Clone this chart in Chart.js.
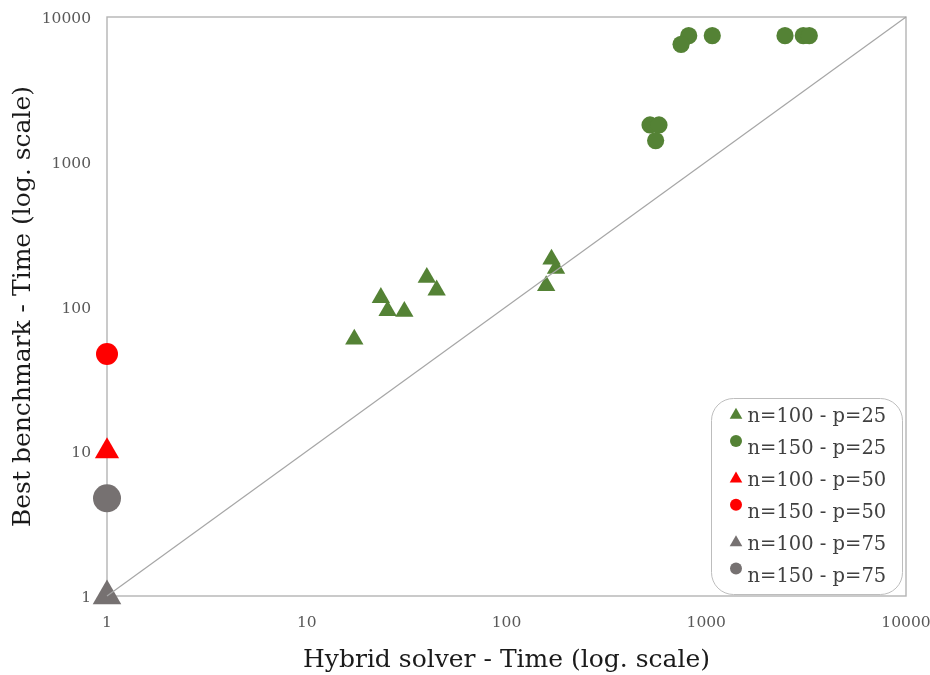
<!DOCTYPE html>
<html><head><meta charset="utf-8">
<script src="https://cdn.jsdelivr.net/npm/chart.js@4.4.0/dist/chart.umd.min.js"></script>
<style>html,body{margin:0;padding:0;background:#fff;}canvas{display:block;}</style>
</head><body>
<canvas id="c" width="930" height="675"></canvas>
<script>
// ---- data ----
const tickValues = [1, 10, 100, 1000, 10000];
const seriesNames = ['n=100 - p=25', 'n=150 - p=25', 'n=100 - p=50', 'n=150 - p=50', 'n=100 - p=75', 'n=150 - p=75'];
const n100p25_x = [17.3, 23.5, 25.4, 30.8, 39.9, 44.7, 168, 177, 158];
const n100p25_y = [59.4, 115, 93.4, 92.3, 158.6, 129.6, 212, 183, 139];
const n150p25_x = [817, 748, 1072, 2479, 3060, 3280, 523, 580, 558];
const n150p25_y = [7430, 6475, 7430, 7430, 7430, 7430, 1795, 1795, 1400];
const n100p50_x = [1];
const n100p50_y = [10];
const n150p50_x = [1];
const n150p50_y = [47];
const n100p75_x = [1];
const n100p75_y = [1];
const n150p75_x = [1];
const n150p75_y = [4.73];
const diagonal_x = [1, 10000];
const diagonal_y = [1, 10000];

// ---- styles ----
const GREEN = '#548235', RED = '#ff0000', GREY = '#767171';
const FONT = "'DejaVu Serif', serif";
const pts = (xs, ys) => xs.map((x, i) => ({x: x, y: ys[i]}));

const series = [
  {name: seriesNames[0], data: pts(n100p25_x, n100p25_y), color: GREEN, style: 'triangle', r: 10.6, lr: 7.3},
  {name: seriesNames[1], data: pts(n150p25_x, n150p25_y), color: GREEN, style: 'circle', r: 8.6, lr: 6},
  {name: seriesNames[2], data: pts(n100p50_x, n100p50_y), color: RED, style: 'triangle', r: 14, lr: 7.3},
  {name: seriesNames[3], data: pts(n150p50_x, n150p50_y), color: RED, style: 'circle', r: 11, lr: 6},
  {name: seriesNames[4], data: pts(n100p75_x, n100p75_y), color: GREY, style: 'triangle', r: 16.5, lr: 7.3},
  {name: seriesNames[5], data: pts(n150p75_x, n150p75_y), color: GREY, style: 'circle', r: 14, lr: 6}
];

const datasets = [{
  type: 'line', label: 'diag', data: pts(diagonal_x, diagonal_y), borderColor: '#a6a6a6', borderWidth: 1.2,
  pointRadius: 0, fill: false, order: 0, clip: false
}].concat(series.map(s => ({
  type: 'scatter', label: s.name, data: s.data, backgroundColor: s.color, borderColor: s.color,
  borderWidth: 0, pointStyle: s.style, pointRadius: s.r, pointHoverRadius: s.r, order: 1, clip: false
})));

function drawMarker(ctx, style, x, y, r, color) {
  ctx.save();
  ctx.fillStyle = color;
  ctx.beginPath();
  if (style === 'circle') {
    ctx.arc(x, y, r, 0, Math.PI * 2);
  } else {
    let rad = 0;
    ctx.moveTo(x + Math.sin(rad) * r, y - Math.cos(rad) * r);
    rad += 2 * Math.PI / 3;
    ctx.lineTo(x + Math.sin(rad) * r, y - Math.cos(rad) * r);
    rad += 2 * Math.PI / 3;
    ctx.lineTo(x + Math.sin(rad) * r, y - Math.cos(rad) * r);
    ctx.closePath();
  }
  ctx.fill();
  ctx.restore();
}

const framePlugin = {
  id: 'frame',
  beforeDatasetsDraw(chart) {
    const {ctx, chartArea: a} = chart;
    ctx.save();
    ctx.strokeStyle = '#b4b4b4';
    ctx.lineWidth = 1.4;
    ctx.strokeRect(a.left, a.top, a.right - a.left, a.bottom - a.top);
    ctx.restore();
  }
};

function roundRect(ctx, x, y, w, h, r) {
  ctx.beginPath();
  ctx.moveTo(x + r, y);
  ctx.lineTo(x + w - r, y);
  ctx.arcTo(x + w, y, x + w, y + r, r);
  ctx.lineTo(x + w, y + h - r);
  ctx.arcTo(x + w, y + h, x + w - r, y + h, r);
  ctx.lineTo(x + r, y + h);
  ctx.arcTo(x, y + h, x, y + h - r, r);
  ctx.lineTo(x, y + r);
  ctx.arcTo(x, y, x + r, y, r);
  ctx.closePath();
}

const legendPlugin = {
  id: 'boxLegend',
  afterDraw(chart) {
    const {ctx, chartArea: a} = chart;
    const w = 191, h = 196;
    const x0 = a.right - 3.5 - w, y0 = a.bottom - 1.5 - h;
    ctx.save();
    roundRect(ctx, x0, y0, w, h, 22);
    ctx.fillStyle = '#ffffff';
    ctx.fill();
    ctx.strokeStyle = '#bdbdbd';
    ctx.lineWidth = 1;
    ctx.stroke();
    ctx.font = "19.5px " + FONT;
    ctx.fillStyle = '#404040';
    ctx.textBaseline = 'middle';
    ctx.textAlign = 'left';
    series.forEach((s, i) => {
      const ty = y0 + 18.5 + i * 31.9;
      const my = s.style === 'circle' ? ty - 8 : ty - 2;
      drawMarker(ctx, s.style, x0 + 24.5, my, s.lr, s.color);
      ctx.fillText(s.name, x0 + 36, ty);
    });
    ctx.restore();
  }
};

new Chart(document.getElementById('c'), {
  data: {datasets: datasets},
  options: {
    responsive: false, animation: false, devicePixelRatio: 1,
    layout: {padding: {top: 17, right: 24, left: 0, bottom: 0}},
    plugins: {legend: {display: false}, tooltip: {enabled: false}},
    events: [],
    scales: {
      x: {
        type: 'logarithmic', min: 1, max: 10000, position: 'bottom',
        grid: {display: false, drawTicks: false}, border: {display: false},
        afterBuildTicks: s => { s.ticks = tickValues.map(v => ({value: v})); },
        afterFit: s => { s.height = 79; s.paddingLeft = 0; s.paddingRight = 0; },
        ticks: {autoSkip: false, maxRotation: 0, padding: 18, color: '#595959',
          font: {family: FONT, size: 15.5}, callback: v => String(v)},
        title: {display: true, text: 'Hybrid solver - Time (log. scale)', color: '#1a1a1a',
          font: {family: FONT, size: 25}, padding: {top: 0, bottom: 0}}
      },
      y: {
        type: 'logarithmic', min: 1, max: 10000, position: 'left',
        grid: {display: false, drawTicks: false}, border: {display: false},
        afterBuildTicks: s => { s.ticks = tickValues.map(v => ({value: v})); },
        afterFit: s => { s.width = 107; s.paddingTop = 0; s.paddingBottom = 0; },
        ticks: {autoSkip: false, padding: 16, labelOffset: 2, color: '#595959',
          font: {family: FONT, size: 15.5}, callback: v => String(v)},
        title: {display: true, text: 'Best benchmark - Time (log. scale)', color: '#1a1a1a',
          font: {family: FONT, size: 25}, padding: {top: 8, bottom: 0}}
      }
    }
  },
  plugins: [framePlugin, legendPlugin]
});
</script>
</body></html>
